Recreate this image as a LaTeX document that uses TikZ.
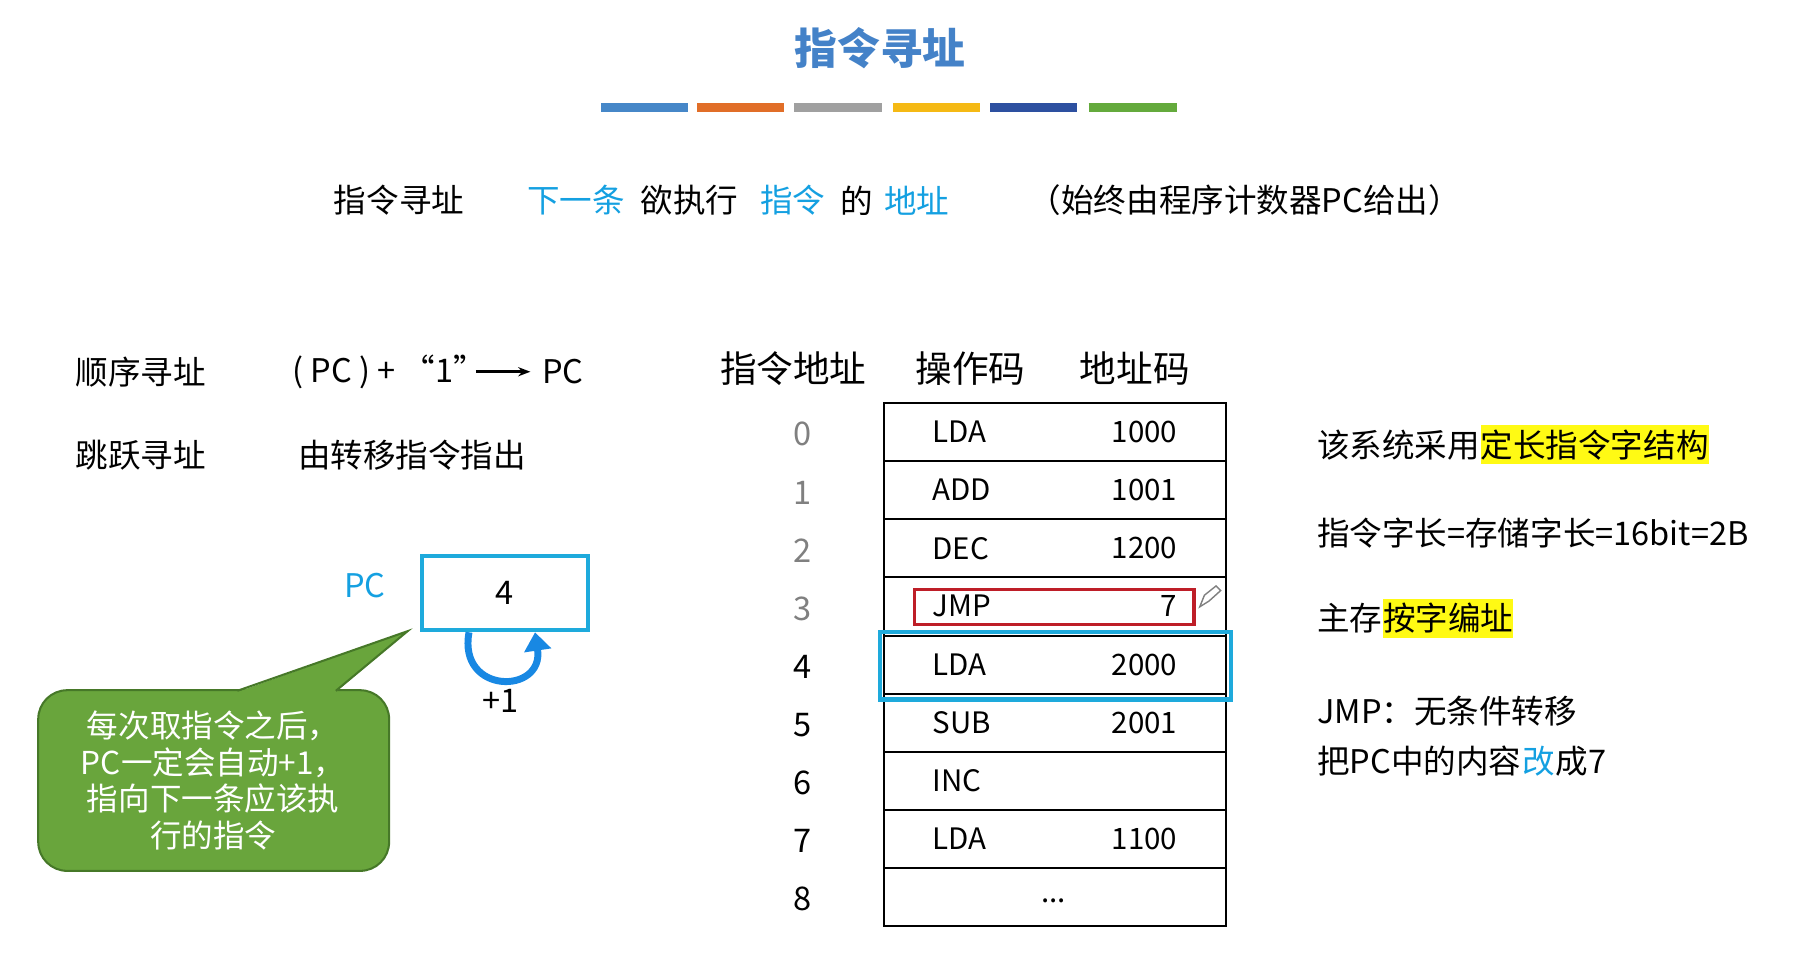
\documentclass[tikz,border=0pt]{standalone}
\usepackage{fontspec}
\setmainfont{Noto Sans CJK SC}
\usetikzlibrary{arrows.meta}
\definecolor{tblue}{RGB}{68,130,200}
\definecolor{lblue}{RGB}{20,160,225}
\definecolor{cyanb}{RGB}{30,170,220}
\definecolor{gfill}{RGB}{105,165,60}
\definecolor{gline}{RGB}{70,120,40}
\definecolor{hy}{RGB}{255,250,20}
\definecolor{b1}{RGB}{70,135,200}
\definecolor{b2}{RGB}{225,110,40}
\definecolor{b3}{RGB}{160,160,160}
\definecolor{b4}{RGB}{245,185,20}
\definecolor{b5}{RGB}{45,80,160}
\definecolor{b6}{RGB}{100,170,60}
\definecolor{tred}{RGB}{190,30,40}
\begin{document}
\begin{tikzpicture}[x=0.02cm,y=-0.02cm,
  txt/.style={inner sep=0pt,anchor=west,font=\fontsize{16}{19}\selectfont},
  hdr/.style={inner sep=0pt,font=\fontsize{18}{21}\selectfont},
  tb/.style={inner sep=0pt,font=\fontsize{14.5}{17}\selectfont},
  bar/.style={line width=0.16cm}]
\useasboundingbox (0,0) rectangle (1550,830);
\node[inner sep=0pt,font=\fontsize{21}{25}\selectfont\bfseries,text=tblue] (title) at (760,42) {指令寻址};
\foreach \a/\b/\c [count=\i] in {519/594/b1,602/677/b2,686/762/b3,771/846/b4,855/930/b5,940/1016/b6}
  \draw[bar,\c] (\a,93) -- (\b,93);
% line 2
\node[txt] (l1) at (288,173) {指令寻址};
\node[txt,text=lblue] (l2) at (455,173) {下一条};
\node[txt] (l3) at (553,173) {欲执行};
\node[txt,text=lblue] (l4) at (656,173) {指令};
\node[txt] (l5) at (725,173) {的};
\node[txt,text=lblue] (l6) at (763,173) {地址};
\node[txt] (l7) at (888,173) {（始终由程序计数器PC给出）};
% left
\node[txt] (s1) at (65,321) {顺序寻址};
\node[txt] (s2) at (252,321) {( PC ) + “1”};
\node[txt] (s3) at (468,321) {PC};
\draw[-{Stealth[length=6pt]},line width=1.4pt] (411,321) -- (458,321);
\node[txt] (j1) at (65,393) {跳跃寻址};
\node[txt] (j2) at (257,393) {由转移指令指出};
\node[txt,anchor=center,text=lblue] (pcl) at (315,506) {PC};
\node[draw=cyanb,line width=2pt,minimum width=2.88cm,minimum height=1.28cm,inner sep=0pt,font=\fontsize{16}{19}\selectfont] (pc) at (436,512) {4};
\coordinate (a1) at (405,546);
\coordinate (a2) at (462,546);
\draw[cyanb!80!blue,line width=0.12cm,-{Triangle[length=9pt,width=13pt]}] (a1) .. controls (395,600) and (470,600) .. (a2);
\node[txt,anchor=center] (p1) at (432,605) {+1};
% callout
\fill[gfill,draw=gline,line width=1pt,rounded corners=0.5cm] (33,596) rectangle (336,752);
\coordinate (tip) at (352,545);
\fill[gfill] (205,597.5) -- (tip) -- (290,597.5) -- cycle;
\draw[gline,line width=1pt] (205,596.5) -- (tip) -- (290,596.5);
\node[inner sep=0pt,align=center,text=white,font=\fontsize{15.5}{18}\selectfont] (cb) at (184,674) {每次取指令之后，\\PC一定会自动+1，\\指向下一条应该执\\行的指令};
% table
\node[hdr] (h1) at (685,318) {指令地址};
\node[hdr] (h2) at (838,318) {操作码};
\node[hdr] (h3) at (980,318) {地址码};
\draw[line width=1pt] (763,348) rectangle (1059,800);
\foreach \i in {1,...,8} \draw[line width=1pt] (763,348+\i*50.2) -- (1059,348+\i*50.2);
\foreach \n/\op/\ad/\c in {0/LDA/1000/gray,1/ADD/1001/gray,2/DEC/1200/gray,3/JMP/7/gray,4/LDA/2000/black,5/SUB/2001/black,6/INC//black,7/LDA/1100/black,8///black}{
  \node[tb,text=\c,font=\fontsize{16}{19}\selectfont] (n\n) at (693,375+\n*50.2) {\n};
  \node[tb,anchor=west] (o\n) at (805,373+\n*50.2) {\op};
  \node[tb,anchor=east] (d\n) at (1017,373+\n*50.2) {\ad};
}
\node[tb] (dots) at (910,778) {...};
\draw[tred,line width=1.5pt] (790,509) rectangle (1031,539);
\draw[cyanb,line width=2pt] (760,546) rectangle (1063,604);
\draw[gray,line width=0.7pt] (1036,524) -- (1040,514) -- (1050,506) -- (1054,510) -- (1044,519) -- cycle;
% right
\node[txt] (r1) at (1137,384) {该系统采用};
\node[txt,fill=hy,inner ysep=2pt] (r1b) at (r1.east) {定长指令字结构};
\node[txt] (r2) at (1137,460) {指令字长=存储字长=16bit=2B};
\node[txt] (r3) at (1137,534) {主存};
\node[txt,fill=hy,inner ysep=2pt] (r3b) at (r3.east) {按字编址};
\node[txt] (r4) at (1137,614) {JMP：无条件转移};
\node[txt] (r5) at (1137,657) {把PC中的内容};
\node[txt,text=lblue] (r5b) at (r5.east) {改};
\node[txt] (r5c) at (r5b.east) {成7};
\end{tikzpicture}
\end{document}
